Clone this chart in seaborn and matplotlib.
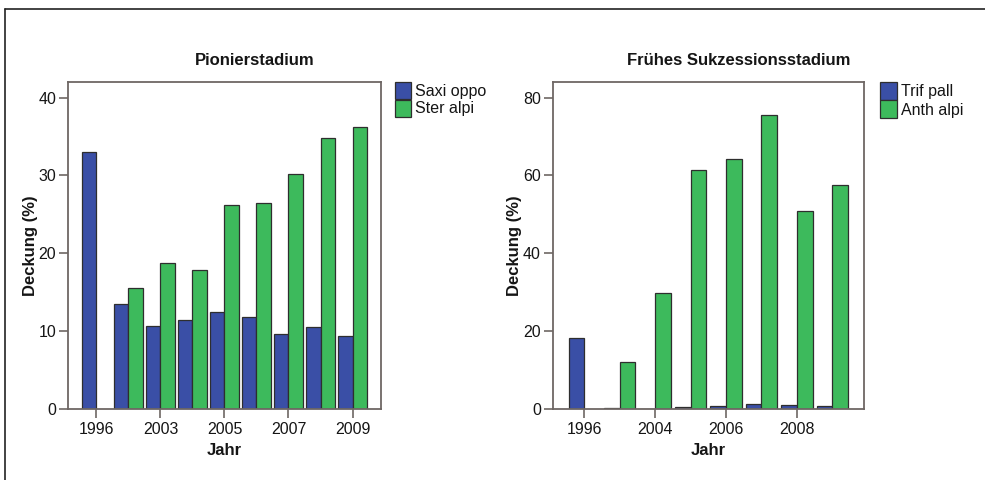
import numpy as np
import pandas as pd
import matplotlib
matplotlib.use("Agg")
import matplotlib.pyplot as plt
from matplotlib.lines import Line2D
import seaborn as sns

# Pionierstadium: cover per year
years_pionier = ["1996", "2002", "2003", "2004", "2005", "2006", "2007", "2008", "2009"]
saxi_oppo = [33.0, 13.5, 10.7, 11.4, 12.5, 11.8, 9.6, 10.5, 9.4]
ster_alpi = [np.nan, 15.5, 18.8, 17.9, 26.2, 26.4, 30.2, 34.8, 36.2]
ticks_pionier = ["1996", "2003", "2005", "2007", "2009"]

# Frühes Sukzessionsstadium: cover per year
years_frueh = ["1996", "2003", "2004", "2005", "2006", "2007", "2008", "2009"]
trif_pall = [18.3, 0.3, 0.0, 0.5, 0.85, 1.2, 1.0, 0.8]
anth_alpi = [np.nan, 12.1, 29.7, 61.3, 64.3, 75.4, 50.8, 57.6]
ticks_frueh = ["1996", "2004", "2006", "2008"]

BLUE = "#3a4fa6"
GREEN = "#3dba5c"
EDGE = "#2e2e2e"
FRAME = "#6e6764"
TEXT = "#151515"
FONT = "Liberation Sans"

sns.set_theme(style="white")
plt.rcParams["font.family"] = [FONT, "DejaVu Sans"]


def long_table(years, name_a, vals_a, name_b, vals_b):
    return pd.DataFrame({
        "Jahr": years + years,
        "Art": [name_a] * len(years) + [name_b] * len(years),
        "Deckung": list(vals_a) + list(vals_b),
    })


def draw_panel(ax, df, years, tick_years, ymax, yticks, title, title_x, names,
               leg_x, leg_fs, leg_hl, leg_hh, leg_ls):
    sns.barplot(data=df, x="Jahr", y="Deckung", hue="Art", order=years,
                hue_order=names, palette=[BLUE, GREEN], width=0.88,
                edgecolor=EDGE, linewidth=0.9, saturation=1, errorbar=None,
                ax=ax, legend=False)
    n = len(years)
    ax.set_xlim(-0.89, n - 1 + 0.89)
    ax.set_ylim(0, ymax)
    ax.set_yticks(yticks)
    ax.set_yticklabels([str(t) for t in yticks])
    ax.set_xticks([years.index(y) for y in tick_years])
    ax.set_xticklabels(tick_years)
    for sp in ax.spines.values():
        sp.set_color(FRAME)
        sp.set_linewidth(1.3)
    ax.tick_params(axis="both", which="major", length=6.3, width=1.2,
                   color=FRAME, labelsize=11.5, labelcolor=TEXT,
                   direction="out", bottom=True, left=True)
    ax.tick_params(axis="x", pad=3.4)
    ax.tick_params(axis="y", pad=2.2)
    ax.set_xlabel("Jahr", fontsize=12, fontweight="bold", color=TEXT)
    ax.set_ylabel("Deckung (%)", fontsize=12, fontweight="bold", color=TEXT)
    ax.xaxis.set_label_coords(0.5, -0.103)
    ax.yaxis.set_label_coords(-0.097, 0.5)
    handles = [
        plt.Rectangle((0, 0), 1, 1, facecolor=BLUE, edgecolor=EDGE, linewidth=0.9),
        plt.Rectangle((0, 0), 1, 1, facecolor=GREEN, edgecolor=EDGE, linewidth=0.9),
    ]
    leg = ax.legend(handles, names, loc="upper left", bbox_to_anchor=(leg_x, 1.0),
                    frameon=False, fontsize=leg_fs, handlelength=leg_hl,
                    handleheight=leg_hh, handletextpad=0.25, labelspacing=leg_ls,
                    borderaxespad=0, borderpad=0)
    for t in leg.get_texts():
        t.set_color(TEXT)
    ax.figure.text(title_x, 0.8735, title, ha="center", va="center",
                   fontsize=12, fontweight="bold", color=TEXT)


fig = plt.figure(figsize=(9.85, 4.8), dpi=100)
fig.patch.set_facecolor("white")
ax1 = fig.add_axes([0.0690, 0.1479, 0.3178, 0.6813])
ax2 = fig.add_axes([0.5611, 0.1479, 0.3160, 0.6813])

df1 = long_table(years_pionier, "Saxi oppo", saxi_oppo, "Ster alpi", ster_alpi)
df2 = long_table(years_frueh, "Trif pall", trif_pall, "Anth alpi", anth_alpi)

draw_panel(ax1, df1, years_pionier, ticks_pionier, 42, [0, 10, 20, 30, 40],
           "Pionierstadium", 0.2589, ["Saxi oppo", "Ster alpi"],
           1.045, 11.5, 1.0, 1.28, 0.02)
draw_panel(ax2, df2, years_frueh, ticks_frueh, 84, [0, 20, 40, 60, 80],
           "Frühes Sukzessionsstadium", 0.7503, ["Trif pall", "Anth alpi"],
           1.051, 11.5, 1.06, 1.35, 0.03)

# Outer frame lines (top and left)
fig.add_artist(Line2D([5 / 985, 1.0], [1 - 9 / 480, 1 - 9 / 480],
                      transform=fig.transFigure, color="#222222", linewidth=1.2))
fig.add_artist(Line2D([5 / 985, 5 / 985], [0.0, 1 - 9 / 480],
                      transform=fig.transFigure, color="#222222", linewidth=1.2))

fig.savefig("out.png", dpi=100, facecolor="white")
